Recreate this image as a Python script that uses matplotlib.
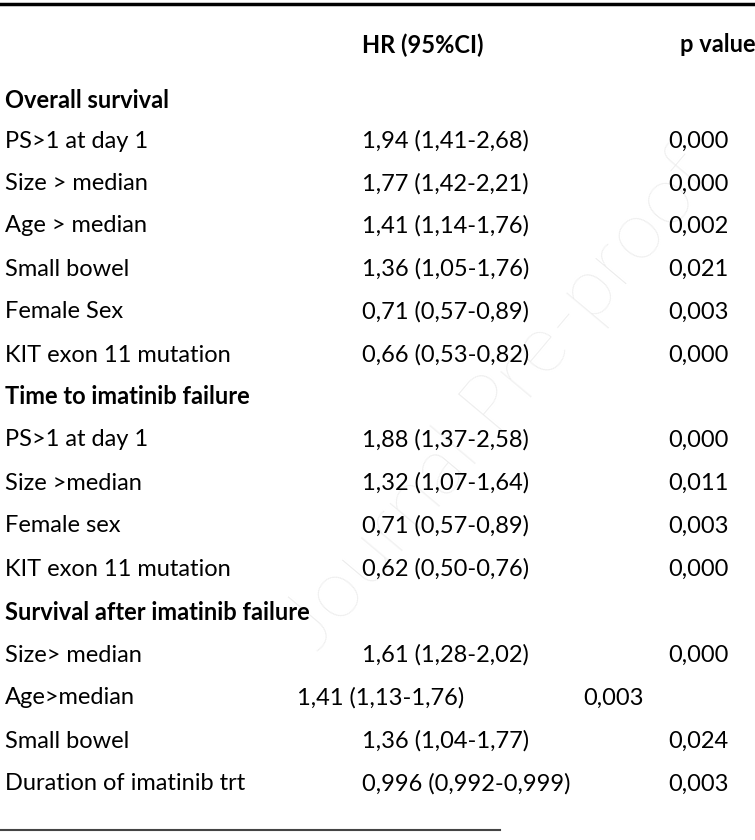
import matplotlib.pyplot as plt

W, H = 755, 840
plt.rcParams['font.family'] = ['Lato', 'DejaVu Sans']

# (label, HR, p, y, bold)
rows = [
    ("Overall survival", "", "", 98, True),
    ("PS>1 at day 1", "1,94 (1,41-2,68)", "0,000", 139, False),
    ("Size > median", "1,77 (1,42-2,21)", "0,000", 182, False),
    ("Age > median", "1,41 (1,14-1,76)", "0,002", 224, False),
    ("Small bowel", "1,36 (1,05-1,76)", "0,021", 267, False),
    ("Female Sex", "0,71 (0,57-0,89)", "0,003", 310, False),
    ("KIT exon 11 mutation", "0,66 (0,53-0,82)", "0,000", 353, False),
    ("Time to imatinib failure", "", "", 395, True),
    ("PS>1 at day 1", "1,88 (1,37-2,58)", "0,000", 438, False),
    ("Size >median", "1,32 (1,07-1,64)", "0,011", 481, False),
    ("Female sex", "0,71 (0,57-0,89)", "0,003", 524, False),
    ("KIT exon 11 mutation", "0,62 (0,50-0,76)", "0,000", 567, False),
    ("Survival after imatinib failure", "", "", 610, True),
    ("Size> median", "1,61 (1,28-2,02)", "0,000", 653, False),
    ("Age>median", "1,41 (1,13-1,76)", "0,003", 696, False),
    ("Small bowel", "1,36 (1,04-1,77)", "0,024", 739, False),
    ("Duration of imatinib trt", "0,996 (0,992-0,999)", "0,003", 782, False),
]

fig = plt.figure(figsize=(W / 100, H / 100), dpi=100)
ax = fig.add_axes([0, 0, 1, 1])
ax.set_xlim(0, W)
ax.set_ylim(H, 0)
ax.axis('off')

fs = 17
dy = 2
ax.plot([0, W], [4, 4], color='black', lw=2.5)
ax.plot([0, 500], [830, 830], color='#444444', lw=1.5)

ax.text(362, 43 + dy, "HR (95%CI)", fontsize=fs, fontweight='bold', va='center')
ax.text(680, 43 + dy, "p value", fontsize=fs, fontweight='bold', va='center')

for label, hr, p, y, bold in rows:
    y = y + dy
    ax.text(5, y, label, fontsize=fs, va='center',
            fontweight='bold' if bold else 'normal')
    if label == "Age>median":
        ax.text(297, y, hr, fontsize=fs, va='center')
        ax.text(583, y, p, fontsize=fs, va='center')
    elif hr:
        ax.text(362, y, hr, fontsize=fs, va='center')
        ax.text(668, y, p, fontsize=fs, va='center')

# watermark
ax.text(500, 400, "Journal Pre-proof", fontsize=60, color='#ececec',
        rotation=50, ha='center', va='center', zorder=0, fontweight='light')

fig.savefig("out.png", dpi=100)
